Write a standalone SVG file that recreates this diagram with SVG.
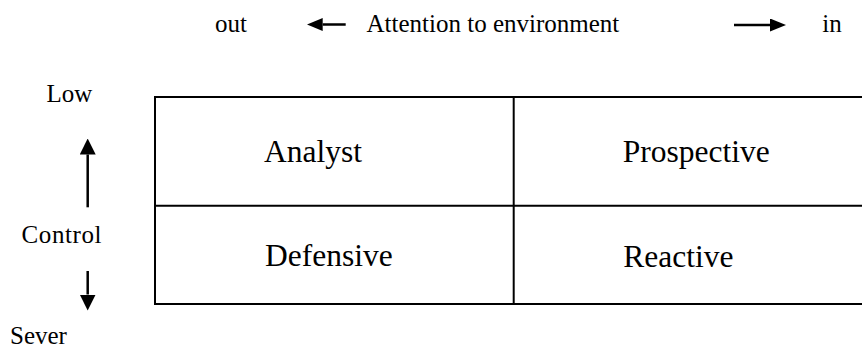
<svg xmlns="http://www.w3.org/2000/svg" width="862" height="347" viewBox="0 0 862 347">
  <defs>
    <marker id="headH" viewBox="0 0 16 13" refX="0" refY="6.5" markerWidth="16" markerHeight="13" markerUnits="userSpaceOnUse" orient="auto">
      <path d="M0,0 L16,6.5 L0,13 z" fill="#000"/>
    </marker>
    <marker id="headV" viewBox="0 0 16 16" refX="0" refY="8" markerWidth="16" markerHeight="16" markerUnits="userSpaceOnUse" orient="auto">
      <path d="M0,0 L16,8 L0,16 z" fill="#000"/>
    </marker>
  </defs>

  <rect width="862" height="347" fill="#fff"/>

  <!-- horizontal axis: attention to environment -->
  <g id="axis-attention" font-size="25" font-family="'Liberation Serif', serif">
    <text x="215" y="31.7">out</text>
    <text x="366.5" y="31.7">Attention to environment</text>
    <text x="822.3" y="31.7">in</text>
  </g>

  <!-- vertical axis: control -->
  <g id="axis-control" font-size="25" font-family="'Liberation Serif', serif">
    <text x="46.5" y="102.3">Low</text>
    <text x="21.5" y="243.3" textLength="80">Control</text>
    <text x="10" y="344">Sever</text>
  </g>

  <!-- quadrant grid (open on the right) -->
  <g id="grid" stroke="#000" stroke-width="2" fill="none">
    <path d="M862,97 H155 V304 H862"/>
    <line x1="155" y1="205.7" x2="862" y2="205.7"/>
    <line x1="513.7" y1="97" x2="513.7" y2="304"/>
  </g>

  <g id="quadrants" font-size="31.5" font-family="'Liberation Serif', serif">
    <g id="analyst"><text x="264" y="161.7">Analyst</text></g>
    <g id="prospective"><text x="622.7" y="162.2">Prospective</text></g>
    <g id="defensive"><text x="265" y="265.7">Defensive</text></g>
    <g id="reactive"><text x="623.3" y="266.5">Reactive</text></g>
  </g>

  <!-- axis arrows -->
  <g id="connectors" stroke="#000" stroke-width="2.5" fill="none">
    <line x1="345.7" y1="24.5" x2="322.7" y2="24.5" marker-end="url(#headH)"/>
    <line x1="734" y1="25" x2="770" y2="25" marker-end="url(#headH)"/>
    <line x1="87.7" y1="207.3" x2="87.7" y2="154.5" marker-end="url(#headV)"/>
    <line x1="87.7" y1="271" x2="87.7" y2="294.5" marker-end="url(#headV)"/>
  </g>
</svg>
